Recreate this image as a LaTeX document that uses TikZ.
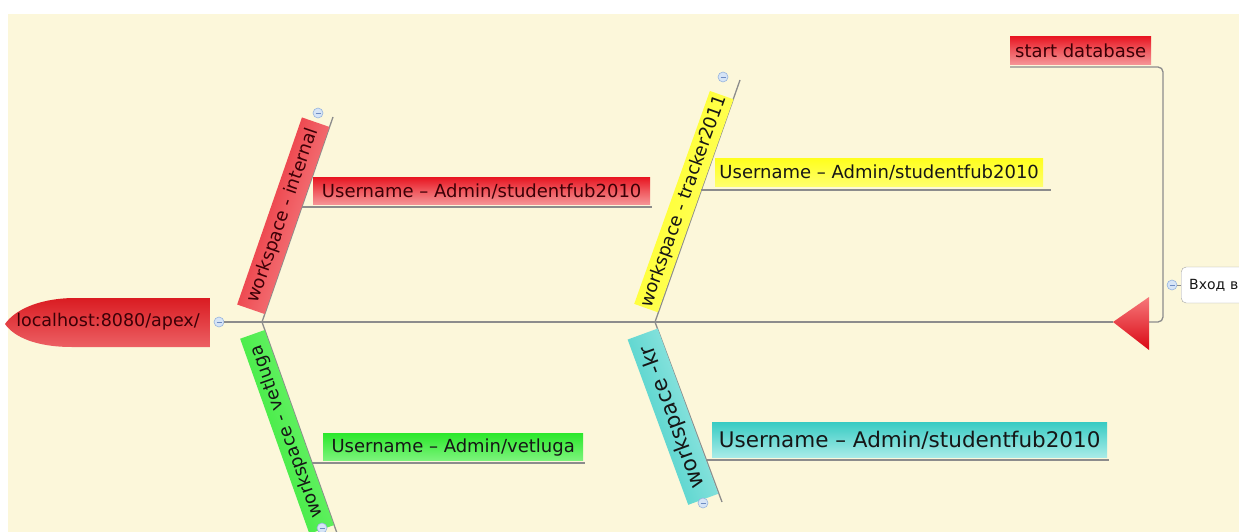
\documentclass[tikz,border=0pt]{standalone}
\usepackage{fontspec}
\setmainfont{DejaVu Sans}
\usetikzlibrary{calc}
\definecolor{cream}{RGB}{252,247,218}
\definecolor{lineg}{RGB}{140,140,140}
\definecolor{redA}{RGB}{232,24,36}
\definecolor{redM}{RGB}{240,90,96}
\definecolor{redB}{RGB}{246,150,152}
\definecolor{yelA}{RGB}{255,255,30}
\definecolor{yelB}{RGB}{255,255,110}
\definecolor{grnA}{RGB}{45,232,45}
\definecolor{grnB}{RGB}{125,244,125}
\definecolor{cyaA}{RGB}{58,204,196}
\definecolor{cyaB}{RGB}{170,236,232}
\definecolor{mcD}{RGB}{150,180,222}
\definecolor{mcF}{RGB}{214,228,246}
\definecolor{mcL}{RGB}{110,140,195}
\definecolor{txtR}{RGB}{60,0,6}
\definecolor{txtD}{RGB}{22,22,22}
\begin{document}
\begin{tikzpicture}[x=1pt,y=1pt,
  conn/.style={draw=lineg, line width=1.3pt},
  mc/.style={circle, draw=mcD, fill=mcF, minimum size=10pt, inner sep=0pt, line width=0.6pt,
    path picture={\draw[mcL, line width=0.8pt] ([xshift=-2.5pt]path picture bounding box.center) -- ([xshift=2.5pt]path picture bounding box.center);}},
  ws/.style={inner sep=0pt, anchor=south, text=txtD},
  ub/.style={inner sep=0pt, anchor=south west, text=txtD},
  redfill/.style={top color=redA, bottom color=redB, middle color=redM, text=txtR},
  yelfill/.style={top color=yelA, bottom color=yelB},
  grnfill/.style={top color=grnA, bottom color=grnB},
  cyafill/.style={top color=cyaA, bottom color=cyaB},
  fA/.style={font=\fontsize{18}{20}\selectfont},
  fB/.style={font=\fontsize{21.5}{24}\selectfont}
]
\useasboundingbox (0,0) rectangle (1239,-532);
\clip (0,0) rectangle (1239,-532);
\fill[white] (0,0) rectangle (1239,-532);
\fill[cream] (8,-14) rectangle (1239,-532);

% spine and head
\shade[top color={rgb,255:red,218;green,28;blue,34}, middle color={rgb,255:red,240;green,58;blue,60}, bottom color={rgb,255:red,236;green,96;blue,100}]
  (210,-298) -- (72,-298) .. controls (36,-299) and (14,-311) .. (5,-324) .. controls (14,-337) and (36,-347) .. (72,-347) -- (210,-347) -- cycle;
\node[text=txtR, font=\fontsize{17.5}{20}\selectfont] (lh) at (108,-322) {localhost:8080/apex/};
\node[mc] (lhc) at (219,-322) {};

\coordinate (s1) at (262,-322);
\coordinate (s2) at (655,-322);
\coordinate (e1) at (333,-117);
\coordinate (e2) at (338,-536);
\coordinate (e3) at (740,-80);
\coordinate (e4) at (722,-502);
\coordinate (tri) at (1113,-322);
\coordinate (trib) at (1149,-322);
\coordinate (rc1) at (1163,-322);
\coordinate (rc2) at (1163,-67);

\draw[conn] (lhc) -- (tri);
\draw[conn, rounded corners=5pt] (trib) -- (rc1) -- (rc2) -- (1010,-67);
\shade[top color={rgb,255:red,246;green,120;blue,122}, bottom color={rgb,255:red,218;green,8;blue,20}]
  (tri) -- (1149,-297) -- (1149,-350) -- cycle;

% branches
\draw[conn] (s1) -- (e1);
\draw[conn] (s1) -- (e2);
\draw[conn] (s2) -- (e3);
\draw[conn] (s2) -- (e4);

\node[ws, redfill, shading angle=70.9, fA, rotate=70.9, minimum width=198pt, minimum height=29pt] (wint) at ($(s1)!0.495!(e1)$) {workspace - internal};
\node[ws, grnfill, shading angle=109.55, fA, rotate=109.55, minimum width=207pt, minimum height=26pt] (wvet) at ($(s1)!0.493!(e2)$) {workspace - vetluga};
\node[ws, yelfill, shading angle=70.44, fA, rotate=70.44, minimum width=226pt, minimum height=25pt] (wtr) at ($(s2)!0.48!(e3)$) {workspace - tracker2011};
\node[ws, cyafill, shading angle=110.14, fB, rotate=110.14, minimum width=176pt, minimum height=32pt] (wkr) at ($(s2)!0.495!(e4)$) {workspace -kr};

\node[mc] (c1) at (318,-113) {};
\node[mc] (c2) at (322,-528) {};
\node[mc] (c3) at (723,-77) {};
\node[mc] (c4) at (703,-503) {};

% username boxes
\coordinate (j1) at ($(s1)!0.561!(e1)$);
\coordinate (j2) at ($(s1)!0.659!(e2)$);
\coordinate (j3) at ($(s2)!0.545!(e3)$);
\coordinate (j4) at ($(s2)!0.767!(e4)$);

\node[ub, redfill, fA, minimum width=337pt, minimum height=27pt] (u1) at (313,-205) {Username – Admin/studentfub2010};
\node[ub, grnfill, fA, minimum width=260pt, minimum height=27pt] (u2) at (323,-461) {Username – Admin/vetluga};
\node[ub, yelfill, fA, minimum width=328pt, minimum height=28pt] (u3) at (715,-187) {Username – Admin/studentfub2010};
\node[ub, cyafill, fB, minimum width=395pt, minimum height=35pt] (u4) at (712,-458) {Username – Admin/studentfub2010};

\draw[conn] (j1) -- ([xshift=2pt]j1 -| u1.east);
\draw[conn] (j2) -- ([xshift=2pt]j2 -| u2.east);
\draw[conn] (j3) -- ([xshift=8pt]j3 -| u3.east);
\draw[conn] (j4) -- ([xshift=2pt]j4 -| u4.east);

% start database
\node[ub, redfill, fA, minimum width=141pt, minimum height=28pt] (sd) at (1010,-65) {start database};

% entry box
\node[mc] (vhc) at (1172,-285) {};
\node[rounded corners=5pt, draw=lineg!80, fill=white, anchor=west, minimum height=36pt,
      text width=80pt, inner xsep=8pt, align=left, text=txtD, font=\fontsize{14}{16}\selectfont] (vh) at (1181,-285) {Вход в};
\draw[conn, line width=0.8pt] (vhc) -- (vh);
\end{tikzpicture}
\end{document}
